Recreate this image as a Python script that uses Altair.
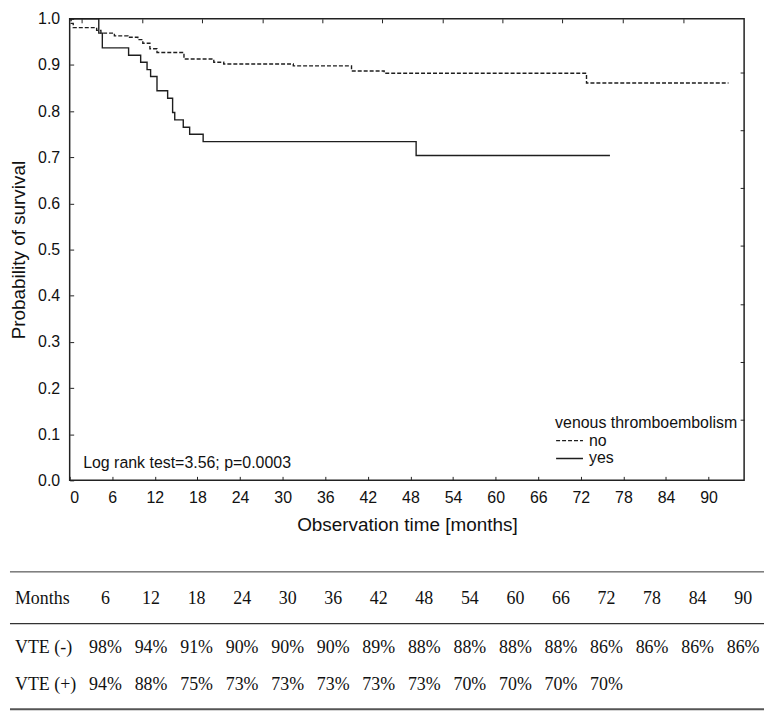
import altair as alt
import pandas as pd

SANS = "Liberation Sans"
SERIF = "Liberation Serif"
INK = "#1e1e1e"

# Kaplan-Meier step points (months, survival probability)
no_time = [0, 0.2, 0.5, 3.8, 4.4, 6.3, 8.2, 9.6, 10.3, 11.3, 12.3, 16.1, 20.3, 21.7, 31.5, 39.7, 44.3, 72.8, 92.8]
no_surv = [1.0, 0.990, 0.981, 0.975, 0.969, 0.963, 0.960, 0.955, 0.947, 0.935, 0.927, 0.913, 0.906, 0.902, 0.898, 0.887, 0.882, 0.861, 0.861]
yes_time = [0, 4.1, 4.6, 8.3, 10.0, 10.9, 11.4, 12.3, 13.8, 14.5, 14.8, 16.0, 16.9, 18.8, 48.8, 76.1]
yes_surv = [1.0, 0.969, 0.937, 0.921, 0.906, 0.890, 0.875, 0.844, 0.828, 0.797, 0.781, 0.765, 0.750, 0.734, 0.704, 0.704]
groups = ["no", "yes"]

# axis ticks
x_ticks = [0, 6, 12, 18, 24, 30, 36, 42, 48, 54, 60, 66, 72, 78, 84, 90]
y_ticks = [0.0, 0.1, 0.2, 0.3, 0.4, 0.5, 0.6, 0.7, 0.8, 0.9, 1.0]
top_ticks = [1.7, 10.2, 18.7, 27.2, 35.6, 44.0, 52.5, 61.0, 69.4, 77.9, 86.4]
right_ticks = [0.884, 0.759, 0.633, 0.508, 0.382, 0.257, 0.131]

logrank_text = "Log rank test=3.56; p=0.0003"

# table below the plot
table_months = [6, 12, 18, 24, 30, 36, 42, 48, 54, 60, 66, 72, 78, 84, 90]
vte_neg = ["98%", "94%", "91%", "90%", "90%", "90%", "89%", "88%", "88%", "88%", "88%", "86%", "86%", "86%", "86%"]
vte_pos = ["94%", "88%", "75%", "73%", "73%", "73%", "73%", "73%", "70%", "70%", "70%", "70%"]
row_labels = ["Months", "VTE (-)", "VTE (+)"]

km = pd.concat([
    pd.DataFrame({"time": no_time, "surv": no_surv, "vte": groups[0]}),
    pd.DataFrame({"time": yes_time, "surv": yes_surv, "vte": groups[1]}),
], ignore_index=True)

W, H = 678, 464
xscale = alt.Scale(domain=[0, 95], nice=False, zero=False)
yscale = alt.Scale(domain=[0, 1], nice=False)

lines = alt.Chart(km).mark_line(interpolate="step-after", color=INK, strokeWidth=1.4).encode(
    x=alt.X("time:Q", scale=xscale,
            axis=alt.Axis(title="Observation time [months]", values=x_ticks, format="d",
                          orient="bottom", offset=-4, tickSize=4, labelPadding=9,
                          titlePadding=10, domain=False, grid=False)),
    y=alt.Y("surv:Q", scale=yscale,
            axis=alt.Axis(title="Probability of survival", values=y_ticks, format=".1f",
                          orient="left", offset=-4, tickSize=4, labelPadding=10,
                          titlePadding=9, domain=False, grid=False)),
    strokeDash=alt.StrokeDash(
        "vte:N",
        scale=alt.Scale(domain=groups, range=[[4, 2], [1, 0]]),
        legend=alt.Legend(title="venous thromboembolism", orient="none",
                          legendX=488, legendY=398, padding=0,
                          titleFont=SANS, titleFontSize=16, titleFontWeight="normal",
                          titleColor="#111", titlePadding=2, titleLimit=400,
                          labelFont=SANS, labelFontSize=16, labelColor="#111",
                          labelOffset=5, symbolType="stroke", symbolSize=729,
                          symbolStrokeWidth=1.4, symbolStrokeColor=INK,
                          clipHeight=16, rowPadding=2),
    ),
)

frame = alt.Chart(km).mark_point(opacity=0).encode(
    x=alt.X("time:Q", scale=xscale,
            axis=alt.Axis(orient="top", values=top_ticks, labels=False, title=None,
                          offset=-4, tickSize=4, domain=False, grid=False)),
    y=alt.Y("surv:Q", scale=yscale,
            axis=alt.Axis(orient="right", values=right_ticks, labels=False, title=None,
                          offset=-4, tickSize=4, domain=False, grid=False)),
)

logrank = alt.Chart(pd.DataFrame({"time": [1.9], "surv": [0.038], "t": [logrank_text]})).mark_text(
    align="left", baseline="middle", font=SANS, fontSize=16, color="#111"
).encode(
    x=alt.X("time:Q", scale=xscale, axis=None),
    y=alt.Y("surv:Q", scale=yscale, axis=None),
    text="t:N",
)

km_chart = alt.layer(lines, frame, logrank).resolve_axis(
    x="independent", y="independent"
).properties(width=W, height=H)

# ---- table ----
tx = alt.Scale(domain=[6, 90], range=[36, 677])
ROW_Y = {"Months": 27, "VTE (-)": 77, "VTE (+)": 114}


def row_layer(values, label):
    df = pd.DataFrame({"m": table_months[:len(values)], "t": values})
    return alt.Chart(df).mark_text(font=SERIF, fontSize=18, color="#111", baseline="middle").encode(
        x=alt.X("m:Q", scale=tx, axis=None),
        y=alt.value(ROW_Y[label]),
        text="t:N",
    )


def label_layer(label):
    df = pd.DataFrame({"t": [label]})
    return alt.Chart(df).mark_text(font=SERIF, fontSize=18, color="#111", align="left",
                                   baseline="middle").encode(
        x=alt.value(-55), y=alt.value(ROW_Y[label]), text="t:N")


def rule_layer(ypos, width, color):
    return alt.Chart(pd.DataFrame({"k": [0]})).mark_rule(color=color, strokeWidth=width).encode(
        x=alt.value(-60), x2=alt.value(698), y=alt.value(ypos))


table_chart = alt.layer(
    rule_layer(0, 1, "#333"),
    rule_layer(52, 1.3, "#333"),
    rule_layer(138, 2, "#555"),
    row_layer([str(m) for m in table_months], "Months"),
    row_layer(vte_neg, "VTE (-)"),
    row_layer(vte_pos, "VTE (+)"),
    label_layer("Months"),
    label_layer("VTE (-)"),
    label_layer("VTE (+)"),
).properties(width=W, height=140, view=alt.ViewBackground(stroke="transparent"))

chart = alt.vconcat(km_chart, table_chart, spacing=35).properties(
    padding=0
).configure_view(
    stroke="#222", strokeWidth=1.5
).configure_axis(
    labelFont=SANS, labelFontSize=16, labelColor="#111",
    titleFont=SANS, titleFontSize=19, titleFontWeight="normal", titleColor="#111",
    tickColor="#222", tickWidth=1,
)

chart.save("out.html", embed_options={"renderer": "svg", "actions": False})
